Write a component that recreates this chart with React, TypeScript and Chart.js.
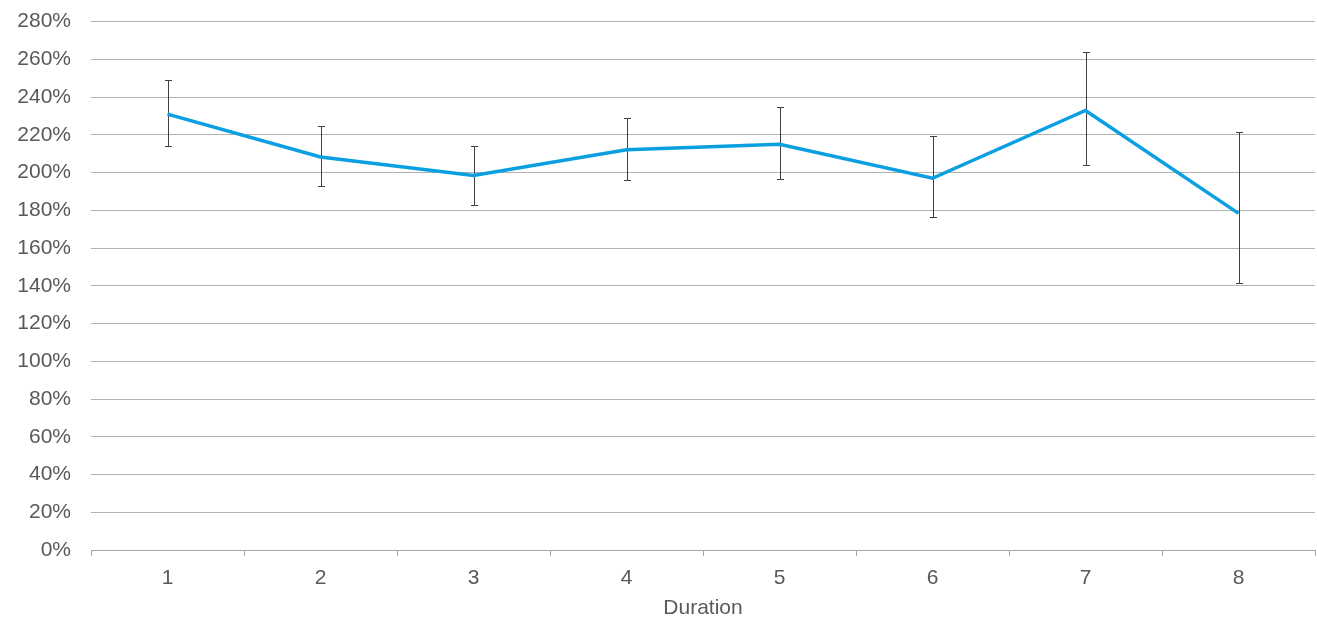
import React, { useEffect, useRef } from "react";
import { Chart, registerables } from "chart.js";

Chart.register(...registerables);

const categories = ["1", "2", "3", "4", "5", "6", "7", "8"];
const values = [231, 208.3, 198.4, 212.1, 215, 197, 232.9, 178.4];
const errorHigh = [249, 224.6, 213.9, 229, 234.5, 219.4, 263.7, 221.3];
const errorLow = [214, 193, 183, 195.8, 196.8, 176.3, 204, 141.6];
const yTicksMax = 280;
const yStep = 20;
const xTitle = "Duration";

const FONT = "'Liberation Sans', Arial, sans-serif";
const TEXT = "#595959";

const errorBarPlugin = {
  id: "errorBars",
  beforeDatasetsDraw(chart: any) {
    const { ctx, scales } = chart;
    const x = scales.x;
    const y = scales.y;
    ctx.save();
    ctx.strokeStyle = "#404040";
    ctx.lineWidth = 1;
    const cap = 3.5;
    categories.forEach((_, i) => {
      const px = Math.round(x.getPixelForValue(i)) + 0.5;
      const top = Math.round(y.getPixelForValue(errorHigh[i])) + 0.5;
      const bot = Math.round(y.getPixelForValue(errorLow[i])) + 0.5;
      ctx.beginPath();
      ctx.moveTo(px, top);
      ctx.lineTo(px, bot);
      ctx.moveTo(px - cap, top);
      ctx.lineTo(px + cap, top);
      ctx.moveTo(px - cap, bot);
      ctx.lineTo(px + cap, bot);
      ctx.stroke();
    });
    ctx.restore();
  },
};

export default function App() {
  const ref = useRef<HTMLCanvasElement | null>(null);
  useEffect(() => {
    if (!ref.current) return;
    const chart = new Chart(ref.current, {
      type: "line",
      data: {
        labels: categories,
        datasets: [
          {
            data: values,
            borderColor: "#0A9FE0",
            borderWidth: 3.5,
            pointRadius: 0,
            tension: 0,
            fill: false,
          },
        ],
      },
      options: {
        animation: false,
        responsive: true,
        maintainAspectRatio: false,
        layout: { padding: { top: 0, right: 2, left: 0, bottom: 0 } },
        plugins: {
          legend: { display: false },
          tooltip: { enabled: false },
        },
        scales: {
          x: {
            offset: true,
            grid: {
              offset: true,
              drawOnChartArea: false,
              drawTicks: true,
              tickLength: 6,
              color: "#a6a6a6",
            },
            border: { display: true, color: "#a6a6a6", width: 1 },
            ticks: {
              font: { family: FONT, size: 21 },
              color: TEXT,
              padding: 10,
            },
            title: {
              display: true,
              text: xTitle,
              font: { family: FONT, size: 21 },
              color: TEXT,
              padding: { top: 4, bottom: -3 },
            },
            afterFit(scale: any) {
              scale.height = 68;
            },
          },
          y: {
            min: 0,
            max: yTicksMax,
            grid: {
              color: "#b2b2b2",
              lineWidth: 1,
              drawTicks: false,
            },
            border: { display: false },
            ticks: {
              stepSize: yStep,
              font: { family: FONT, size: 21 },
              color: TEXT,
              padding: 20,
              callback: (v: any) => `${v}%`,
            },
            afterFit(scale: any) {
              scale.width = 91;
            },
          },
        },
      },
      plugins: [errorBarPlugin],
    });
    return () => chart.destroy();
  }, []);
  return (
    <div style={{ position: "fixed", left: 0, top: -11, width: 1317, height: 629, background: "#fff" }}>
      <canvas ref={ref} />
    </div>
  );
}
